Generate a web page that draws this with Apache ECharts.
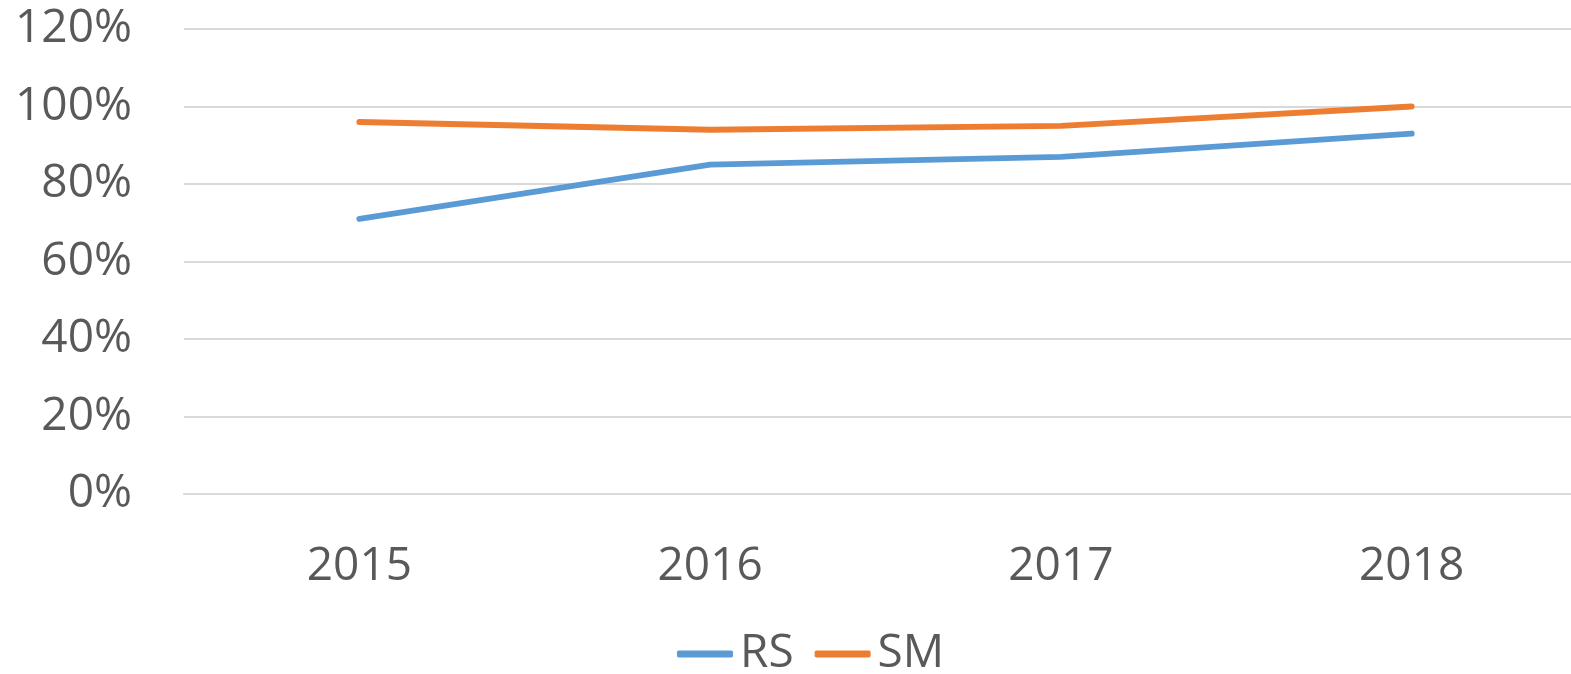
<!DOCTYPE html>
<html>
<head>
<meta charset="utf-8">
<script src="https://cdn.jsdelivr.net/npm/echarts@6/dist/echarts.min.js"></script>
<style>html,body{margin:0;padding:0;background:#fff}#c{width:1571px;height:674px}</style>
</head>
<body>
<div id="c"></div>
<script>
var categories = ['2015', '2016', '2017', '2018'];
var rsValues = [71, 85, 87, 93];
var smValues = [96, 94, 95, 100];
var yTicks = [0, 20, 40, 60, 80, 100, 120];

var chart = echarts.init(document.getElementById('c'));
var font = '"Open Sans", sans-serif';
chart.setOption({
  animation: false,
  color: ['#5b9bd5', '#ed7d31'],
  grid: { left: 184, width: 1403, top: 29, height: 465, containLabel: false, outerBoundsMode: 'none' },
  xAxis: {
    type: 'category',
    data: categories,
    boundaryGap: true,
    axisLine: { show: true, lineStyle: { color: '#d9d9d9', width: 2 } },
    axisTick: { show: false },
    axisLabel: { color: '#595959', fontFamily: font, fontSize: 46, margin: 50 }
  },
  yAxis: {
    type: 'value',
    min: yTicks[0],
    max: yTicks[yTicks.length - 1],
    interval: 20,
    axisLine: { show: false },
    axisTick: { show: false },
    splitLine: { lineStyle: { color: '#d9d9d9', width: 2 } },
    axisLabel: { color: '#595959', fontFamily: font, fontSize: 46, margin: 52, formatter: '{value}%' }
  },
  legend: {
    bottom: -8,
    left: 672,
    itemWidth: 56,
    itemHeight: 7,
    itemGap: 21,
    icon: 'roundRect',
    textStyle: { color: '#595959', fontFamily: font, fontSize: 46, padding: [0, 0, 0, 2] },
    data: ['RS', 'SM']
  },
  series: [
    { name: 'RS', type: 'line', data: rsValues, showSymbol: false, symbol: 'none',
      lineStyle: { width: 6, cap: 'round', join: 'round' } },
    { name: 'SM', type: 'line', data: smValues, showSymbol: false, symbol: 'none',
      lineStyle: { width: 6, cap: 'round', join: 'round' } }
  ]
});
</script>
</body>
</html>
